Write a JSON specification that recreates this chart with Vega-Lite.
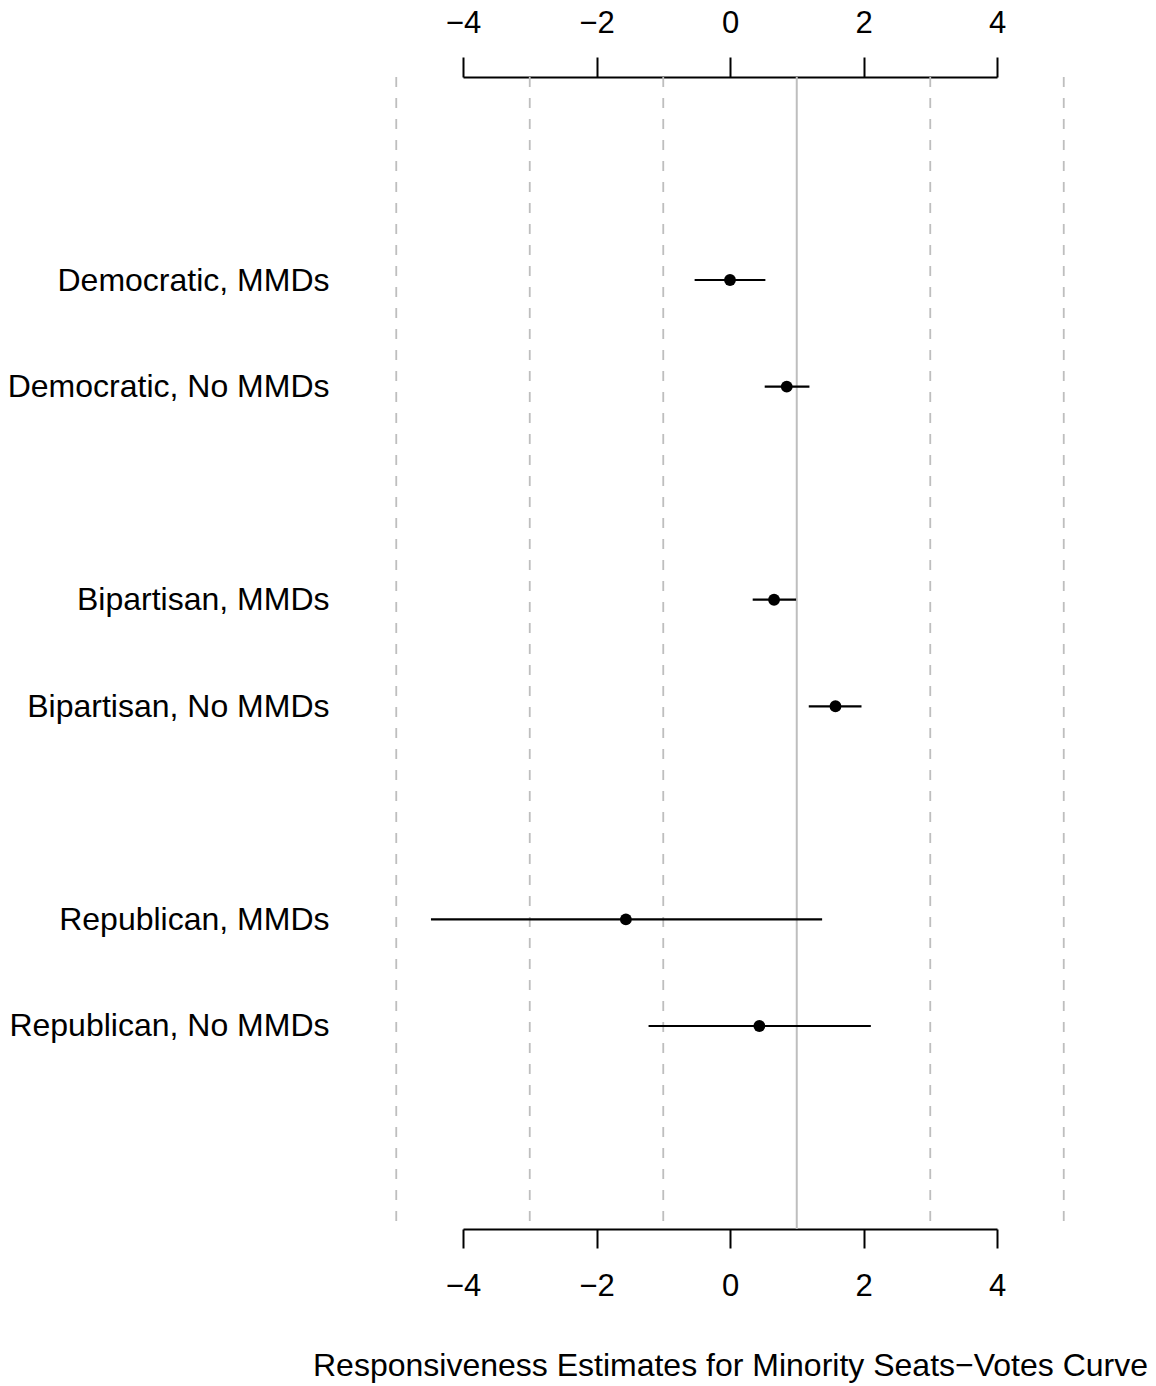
{
  "$schema": "https://vega.github.io/schema/vega-lite/v6.json",
  "autosize": {"type": "none"},
  "padding": {"left": 463, "top": 77, "right": 159, "bottom": 157},
  "width": 534,
  "height": 1152,
  "background": "white",
  "config": {
    "view": {"stroke": null},
    "font": "Liberation Sans",
    "axis": {"labelFont": "Liberation Sans", "titleFont": "Liberation Sans", "labelColor": "black", "titleColor": "black"}
  },
  "datasets": {
    "est": [
      {"label": "Democratic, MMDs", "est": 0.0, "lo": -0.53, "hi": 0.53},
      {"label": "Democratic, No MMDs", "est": 0.85, "lo": 0.52, "hi": 1.19},
      {"label": "Bipartisan, MMDs", "est": 0.66, "lo": 0.34, "hi": 0.99},
      {"label": "Bipartisan, No MMDs", "est": 1.58, "lo": 1.18, "hi": 1.97},
      {"label": "Republican, MMDs", "est": -1.56, "lo": -4.48, "hi": 1.38},
      {"label": "Republican, No MMDs", "est": 0.44, "lo": -1.22, "hi": 2.11}
    ],
    "dashed": [{"x": -5}, {"x": -3}, {"x": -1}, {"x": 3}, {"x": 5}],
    "ref": [{"x": 1}]
  },
  "layer": [
    {
      "data": {"name": "dashed"},
      "mark": {"type": "rule", "color": "#BEBEBE", "strokeWidth": 1.8, "strokeDash": [10, 11]},
      "encoding": {
        "x": {
          "field": "x", "type": "quantitative",
          "scale": {"domain": [-4, 4], "nice": false, "zero": false},
          "axis": {
            "orient": "top", "values": [-4, -2, 0, 2, 4], "format": "d", "title": null, "grid": false,
            "domainColor": "black", "domainWidth": 2, "tickColor": "black", "tickWidth": 2,
            "tickSize": 20, "labelPadding": 18, "labelFontSize": 31, "labelFlush": false,
            "labelOverlap": false
          }
        }
      }
    },
    {
      "data": {"name": "ref"},
      "mark": {"type": "rule", "color": "#BEBEBE", "strokeWidth": 2},
      "encoding": {
        "x": {"field": "x", "type": "quantitative", "axis": null}
      }
    },
    {
      "data": {"name": "est"},
      "encoding": {
        "y": {
          "field": "label", "type": "nominal",
          "scale": {
            "type": "point", "padding": 0.905,
            "domain": [" ", "Democratic, MMDs", "Democratic, No MMDs", "  ", "Bipartisan, MMDs", "Bipartisan, No MMDs", "   ", "Republican, MMDs", "Republican, No MMDs", "    "]
          },
          "axis": {
            "title": null, "domain": false, "ticks": false, "tickSize": 0, "grid": false,
            "labelPadding": 134, "labelFontSize": 32, "labelLimit": 1000
          }
        }
      },
      "layer": [
        {
          "mark": {"type": "rule", "color": "black", "strokeWidth": 2.2},
          "encoding": {
            "x": {
              "field": "lo", "type": "quantitative",
              "axis": {
                "orient": "bottom", "values": [-4, -2, 0, 2, 4], "format": "d",
                "title": "Responsiveness Estimates for Minority Seats\u2212Votes Curve",
                "titleFontSize": 32, "titleFontWeight": "normal", "titlePadding": 49,
                "grid": false,
                "domainColor": "black", "domainWidth": 2, "tickColor": "black", "tickWidth": 2,
                "tickSize": 19, "labelPadding": 23, "labelFontSize": 31, "labelFlush": false,
                "labelOverlap": false
              }
            },
            "x2": {"field": "hi"}
          }
        },
        {
          "mark": {"type": "circle", "color": "black", "opacity": 1, "size": 140},
          "encoding": {
            "x": {"field": "est", "type": "quantitative"}
          }
        }
      ]
    }
  ],
  "resolve": {"axis": {"x": "independent"}}
}
